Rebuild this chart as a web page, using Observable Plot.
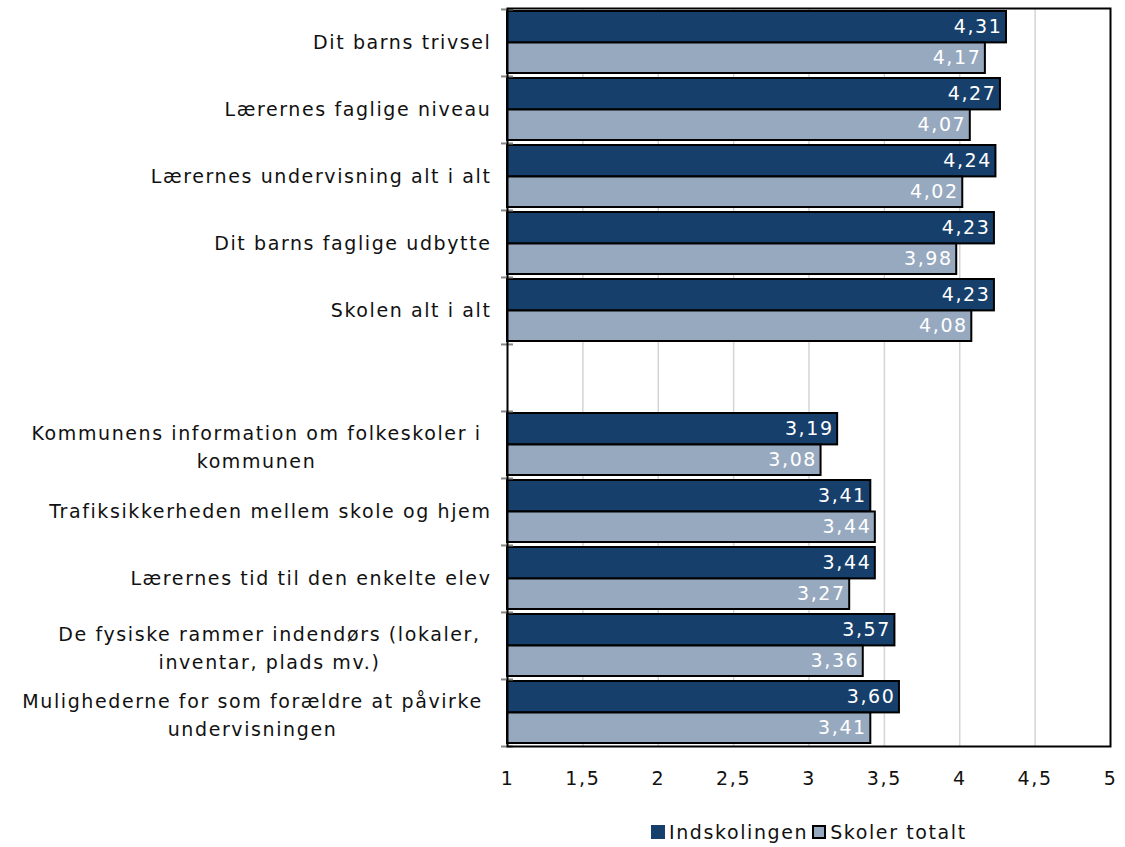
<!DOCTYPE html>
<html>
<head>
<meta charset="utf-8">
<script src="https://cdn.jsdelivr.net/npm/d3@7"></script>
<script src="https://cdn.jsdelivr.net/npm/@observablehq/plot@0.6"></script>
<style>
  html, body { margin: 0; padding: 0; background: #fff; }
  #wrap { position: relative; width: 1125px; height: 847px; font-family: "DejaVu Sans", Verdana, sans-serif; }
  #legend { position: absolute; top: 821px; left: 651px; display: flex; align-items: center; font-size: 19px; letter-spacing: 1.6px; color: #111; white-space: nowrap; }
  .sw { display: inline-block; width: 14px; height: 14px; margin-right: 4px; box-sizing: border-box; }
</style>
</head>
<body>
<div id="wrap">
  <div id="chart"></div>
  <div id="legend"></div>
</div>
<script>
const categories = [
  "Dit barns trivsel",
  "Lærernes faglige niveau",
  "Lærernes undervisning alt i alt",
  "Dit barns faglige udbytte",
  "Skolen alt i alt",
  " ",
  "Kommunens information om folkeskoler i\nkommunen",
  "Trafiksikkerheden mellem skole og hjem",
  "Lærernes tid til den enkelte elev",
  "De fysiske rammer indendørs (lokaler,\ninventar, plads mv.)",
  "Mulighederne for som forældre at påvirke\nundervisningen"
];
const seriesNames = ["Indskolingen", "Skoler totalt"];
const indskolingen = [4.31, 4.27, 4.24, 4.23, 4.23, null, 3.19, 3.41, 3.44, 3.57, 3.60];
const skolerTotalt = [4.17, 4.07, 4.02, 3.98, 4.08, null, 3.08, 3.44, 3.27, 3.36, 3.41];
const xTicks = [1, 1.5, 2, 2.5, 3, 3.5, 4, 4.5, 5];
const colors = ["#173f6b", "#97a9bf"];

const rowsA = categories.map((c, i) => ({cat: c, v: indskolingen[i]})).filter(d => d.v != null);
const rowsB = categories.map((c, i) => ({cat: c, v: skolerTotalt[i]})).filter(d => d.v != null);

const plotTop = 8, plotBottom = 746, svgHeight = 806;
const band = (plotBottom - plotTop) / categories.length;
const fmt = v => v.toFixed(2).replace(".", ",");

const singleLine = categories.filter(c => c.trim() && !c.includes("\n"));
const twoLine = categories.filter(c => c.includes("\n"));
const twoLinePad = [251, 238, 255];

const chart = Plot.plot({
  width: 1125,
  height: svgHeight,
  marginLeft: 507,
  marginRight: 15,
  marginTop: plotTop,
  marginBottom: svgHeight - plotBottom,
  style: {fontFamily: "DejaVu Sans, Verdana, sans-serif", fontSize: "19px", letterSpacing: "1.6px", color: "#111"},
  x: {domain: [1, 5], nice: false},
  y: {domain: categories, padding: 0, type: "band"},
  marks: [
    Plot.ruleX(xTicks.slice(1, -1), {stroke: "#d4d4d4", strokeWidth: 1.5}),
    Plot.barX(rowsA, {x1: 1, x2: "v", y: "cat", fill: colors[0], stroke: "#000", strokeWidth: 2, insetTop: 2, insetBottom: band - 33.5}),
    Plot.barX(rowsB, {x1: 1, x2: "v", y: "cat", fill: colors[1], stroke: "#000", strokeWidth: 2, insetTop: 33.5, insetBottom: 3}),
    Plot.text(rowsA, {x: "v", y: "cat", text: d => fmt(d.v), fill: "#fff", textAnchor: "end", dx: -4, dy: -(band / 2 - 17.5)}),
    Plot.text(rowsB, {x: "v", y: "cat", text: d => fmt(d.v), fill: "#fff", textAnchor: "end", dx: -4, dy: 48.5 - band / 2}),
    Plot.ruleY(categories, {y: d => d, x1: 0.96, x2: 1.04, stroke: "#888", strokeWidth: 2, dy: -band / 2}),
    Plot.ruleY([categories[categories.length - 1]], {y: d => d, x1: 0.96, x2: 1.04, stroke: "#888", strokeWidth: 2, dy: band / 2}),
    Plot.frame({stroke: "#000", strokeWidth: 2}),
    Plot.axisY({ticks: singleLine, tickSize: 0, tickPadding: 16, textAnchor: "end", label: null, fill: "#111"}),
    ...twoLine.map((c, i) => Plot.axisY({ticks: [c], tickSize: 0, tickPadding: twoLinePad[i], textAnchor: "middle", lineHeight: 1.45, label: null, fill: "#111"})),
    Plot.axisX({ticks: xTicks, tickSize: 0, tickPadding: 25, tickFormat: v => String(v).replace(".", ","), label: null, fill: "#111"})
  ]
});
document.getElementById("chart").appendChild(chart);

const legend = document.getElementById("legend");
seriesNames.forEach((name, i) => {
  const item = document.createElement("span");
  item.style.display = "inline-flex";
  item.style.alignItems = "center";
  item.style.marginRight = i === 0 ? "4px" : "0";
  const sw = document.createElement("span");
  sw.className = "sw";
  sw.style.background = colors[i];
  if (i === 1) sw.style.border = "2px solid #000";
  item.appendChild(sw);
  item.appendChild(document.createTextNode(name));
  legend.appendChild(item);
});
</script>
</body>
</html>
